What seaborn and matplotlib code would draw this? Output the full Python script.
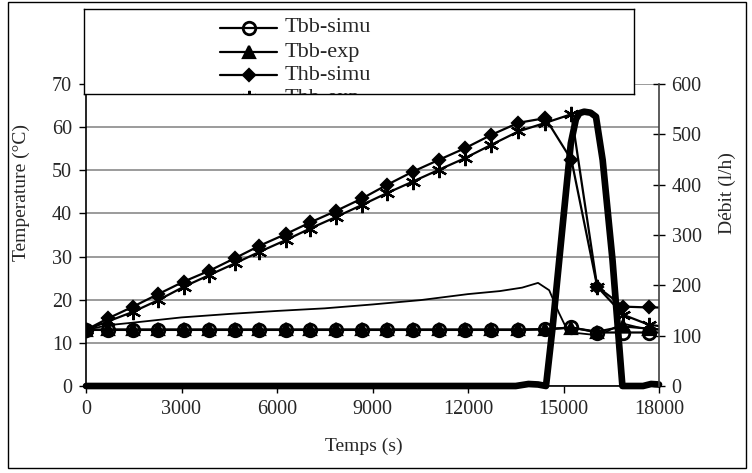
import matplotlib
matplotlib.use("Agg")
import matplotlib.pyplot as plt
import seaborn as sns
import numpy as np
import pandas as pd

# style de base
sns.set_theme(style="white")
plt.rcParams['font.family'] = ['Liberation Serif', 'DejaVu Serif']

# temps des points (s) - le dernier point (18000) sans marqueur
temps = [0, 700, 1480, 2270, 3070, 3870, 4670, 5450, 6270, 7040, 7860, 8680,
         9450, 10270, 11080, 11900, 12730, 13580, 14430, 15250, 16060, 16880, 17680, 18000]

tbb_simu = [13.0, 13.0, 13.0, 13.0, 13.0, 13.0, 13.0, 13.0, 13.0, 13.0, 13.0, 13.0,
            13.0, 13.0, 13.0, 13.0, 13.0, 13.0, 13.1, 13.6, 12.4, 12.4, 12.4, 12.4]
tbb_exp = [13.0, 13.1, 13.1, 13.1, 13.1, 13.1, 13.1, 13.1, 13.1, 13.1, 13.1, 13.1,
           13.1, 13.1, 13.1, 13.1, 13.1, 13.1, 13.2, 13.5, 12.6, 13.8, 13.3, 13.1]
thb_simu = [13.0, 15.7, 18.4, 21.3, 24.2, 26.7, 29.6, 32.5, 35.2, 37.9, 40.6, 43.5,
            46.6, 49.7, 52.4, 55.1, 58.2, 61.0, 62.1, 52.4, 23.0, 18.4, 18.2, 18.2]
thb_exp = [13.0, 15.0, 17.2, 19.9, 23.0, 25.7, 28.4, 31.1, 33.8, 36.5, 39.2, 42.0,
           44.7, 47.4, 50.1, 52.8, 55.9, 59.0, 61.0, 63.0, 23.0, 16.5, 14.2, 13.9]

# courbe sans marqueur
temps_fin = [0, 700, 1500, 3000, 4500, 6000, 7500, 9000, 10500, 12000, 13000, 13700,
             14200, 14550, 14860, 15070, 15390, 15900, 16330, 16850, 17400, 18000]
t_fin = [13.0, 14.1, 14.7, 15.9, 16.7, 17.4, 18.0, 18.9, 19.9, 21.3, 22.0, 22.8,
         23.9, 22.2, 16.9, 13.7, 12.3, 11.9, 12.5, 14.5, 13.5, 13.1]

# débit (l/h)
temps_debit = [0, 13500, 13900, 14200, 14450, 14660, 14970, 15230, 15390, 15500, 15650,
               15850, 16020, 16230, 16540, 16850, 17500, 17750, 18000]
debit = [0, 0, 4, 3, 0, 118, 317, 482, 530, 542, 545, 543, 535, 449, 250, 0, 0, 4, 3]

avec_marqueur = list(range(23))

fig = plt.figure(figsize=(7.52, 4.73), dpi=100)
ax = fig.add_axes([86/752, 1-386/473, 573/752, 302/473])

styles = [
    (tbb_simu, dict(marker='o', markersize=9, markerfacecolor='none', markeredgewidth=2)),
    (tbb_exp, dict(marker='^', markersize=9, markerfacecolor='black', markeredgewidth=1.6)),
    (thb_simu, dict(marker='D', markersize=6.5, markerfacecolor='black', markeredgewidth=1.6)),
    (thb_exp, dict(marker=(6, 2, 0), markersize=11, markerfacecolor='black', markeredgewidth=1.6)),
]
for valeurs, st in styles:
    sns.lineplot(x=temps, y=valeurs, ax=ax, color='black', linewidth=1.6,
                 markeredgecolor='black', markevery=avec_marqueur, legend=False, **st)

sns.lineplot(x=temps_fin, y=t_fin, ax=ax, color='black', linewidth=1.3, legend=False)

ax.set_xlim(0, 18000)
ax.set_ylim(0, 70)
ax.set_xticks(np.arange(0, 18001, 3000))
ax.set_yticks(np.arange(0, 71, 10))
ax.yaxis.grid(True, color='#808080', linewidth=1.1)
ax.set_axisbelow(True)
ax.set_xlabel("Temps (s)", fontsize=14)
ax.set_ylabel("Temperature (°C)", fontsize=14)
ax.xaxis.set_label_coords(0.485, -0.172)
ax.yaxis.set_label_coords(-0.098, 0.64)
ax.tick_params(axis='both', which='major', labelsize=14.5, direction='out',
               length=5, width=1, color='black', pad=5)
ax.tick_params(left=True, bottom=True)
ax.spines['top'].set_visible(False)
ax.spines['right'].set_visible(False)
for s in ['left', 'bottom']:
    ax.spines[s].set_color('black')
    ax.spines[s].set_linewidth(1.2)

# axe secondaire : débit
ax2 = ax.twinx()
sns.lineplot(x=temps_debit, y=debit, ax=ax2, color='black', linewidth=4.8,
             legend=False, clip_on=False)
ax2.set_ylim(0, 600)
ax2.set_yticks(np.arange(0, 601, 100))
ax2.set_ylabel("Débit (l/h)", fontsize=14)
ax2.yaxis.set_label_coords(1.105, 0.64)
ax2.tick_params(axis='y', labelsize=14.5, direction='inout', length=8, width=1,
                color='black', pad=5, right=True)
for s in ['top', 'left', 'bottom']:
    ax2.spines[s].set_visible(False)
ax2.spines['right'].set_color('#404040')
ax2.spines['right'].set_linewidth(1.2)

# légende (coupée en bas comme dans l'original)
lax = fig.add_axes([84/752, 1-94/473, 550/752, 85/473], zorder=5)
lax.set_xlim(0, 550)
lax.set_ylim(85, 0)
lax.set_xticks([])
lax.set_yticks([])
lax.set_facecolor('white')
for s in lax.spines.values():
    s.set_color('black')
    s.set_linewidth(1)
noms = ["Tbb-simu", "Tbb-exp", "Thb-simu", "Thb-exp"]
lignes_y = [19, 43, 66, 89]
for nom, y, (_, st) in zip(noms, lignes_y, styles):
    lax.plot([136, 164.5, 193], [y, y, y], color='black', linewidth=1.6,
             markeredgecolor='black', markevery=[1], **st)
    lax.text(201, y, nom, fontsize=16, va='center', ha='left', clip_on=True)

# cadre extérieur
fig.add_artist(plt.Rectangle((8/752, 5/473), 738/752, 466/473, fill=False,
                             edgecolor='black', linewidth=1, transform=fig.transFigure))

fig.savefig("out.png", dpi=100)
